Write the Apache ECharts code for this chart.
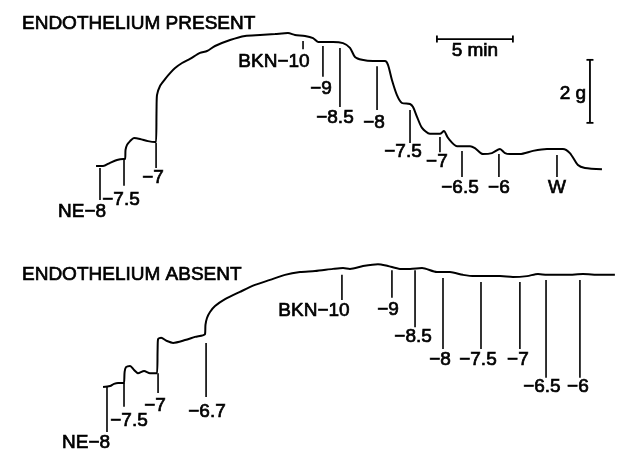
<!DOCTYPE html>
<html>
<head>
<meta charset="utf-8">
<script src="https://cdn.jsdelivr.net/npm/echarts@6/dist/echarts.min.js"></script>
<style>
  html, body { margin: 0; padding: 0; background: #fff; }
  #chart { width: 624px; height: 451px; }
</style>
</head>
<body>
<div id="chart"></div>
<script>
// time in min, tension in g (0 = resting tone before NE)
const presentT = [0, 0.46, 0.92, 1.38, 1.78, 1.91, 1.94, 2.04, 2.24, 2.50, 2.89, 3.42, 3.88, 3.95, 3.98, 4.01, 4.21, 4.54, 4.87, 5.20, 5.66, 6.18, 6.84, 7.30, 7.83, 8.82, 9.80, 10.79, 11.78, 12.63, 13.09, 13.75, 14.28, 14.61, 15.59, 16.25, 16.71, 17.04, 17.50, 18.22, 19.01, 19.21, 19.47, 19.80, 20.13, 20.66, 20.86, 21.12, 21.45, 21.97, 22.63, 22.89, 23.16, 23.75, 24.61, 24.93, 25.46, 26.05, 26.58, 26.91, 27.24, 27.89, 28.75, 29.67, 30.72, 31.18, 31.71, 32.17, 33.29]
const presentG = [0, 0, 0.10, 0.19, 0.22, 0.22, 0.51, 0.67, 0.79, 0.89, 0.86, 0.79, 0.76, 0.76, 1.78, 2.25, 2.54, 2.76, 2.95, 3.11, 3.27, 3.40, 3.59, 3.65, 3.81, 4.00, 4.13, 4.16, 4.19, 4.22, 4.16, 4.13, 4.06, 3.94, 3.94, 3.90, 3.75, 3.46, 3.37, 3.33, 3.33, 3.21, 2.73, 2.25, 2.00, 1.97, 1.87, 1.56, 1.21, 1.02, 1.02, 1.11, 0.89, 0.63, 0.63, 0.57, 0.38, 0.41, 0.54, 0.41, 0.38, 0.38, 0.48, 0.54, 0.54, 0.41, 0.03, -0.06, -0.10]

const absentT = [0.46, 0.92, 1.18, 1.45, 1.78, 1.84, 1.88, 1.97, 2.24, 2.50, 2.76, 3.16, 3.55, 4.01, 4.05, 4.08, 4.28, 4.67, 5.07, 5.86, 6.51, 7.17, 7.20, 7.30, 7.50, 7.83, 8.49, 9.47, 10.46, 11.45, 12.43, 13.42, 14.41, 15.59, 16.25, 16.71, 17.57, 18.55, 19.21, 20.00, 20.66, 21.45, 22.43, 23.29, 24.14, 24.93, 26.58, 27.43, 28.36, 29.08, 29.67, 30.99, 32.04, 33.16, 34.14]
const absentG = [0, 0.03, 0.10, 0.13, 0.13, 0.13, 0.48, 0.63, 0.67, 0.54, 0.44, 0.51, 0.44, 0.44, 1.17, 1.52, 1.56, 1.46, 1.40, 1.49, 1.59, 1.68, 1.97, 2.19, 2.38, 2.57, 2.79, 3.02, 3.24, 3.40, 3.56, 3.65, 3.68, 3.75, 3.78, 3.75, 3.84, 3.90, 3.84, 3.75, 3.75, 3.78, 3.65, 3.65, 3.56, 3.52, 3.52, 3.49, 3.52, 3.59, 3.56, 3.56, 3.59, 3.56, 3.56]

// drug additions: marker time, line top / bottom (g), label and label position
const presentMarkLabel = ['NE−8', '−7.5', '−7', 'BKN−10', '−9', '−8.5', '−8', '−7.5', '−7', '−6.5', '−6', 'W']
const presentMarkT = [0.26, 1.84, 3.95, 13.62, 14.93, 16.05, 18.49, 20.66, 22.63, 24.08, 26.51, 30.33]
const presentMarkHigh = [-0.06, 0.19, 0.73, 3.97, 3.81, 3.75, 3.17, 1.78, 0.92, 0.48, 0.38, 0.35]
const presentMarkLow = [-1.08, -0.63, -0.06, 3.71, 2.83, 1.87, 1.78, 0.73, 0.44, -0.35, -0.35, -0.35]
const presentLabelT = [-0.92, 1.64, 3.75, 11.71, 14.80, 15.72, 18.29, 20.20, 22.43, 23.95, 26.51, 30.33]
const presentLabelG = [-1.46, -1.08, -0.38, 3.30, 2.44, 1.52, 1.37, 0.44, 0.13, -0.70, -0.70, -0.70]

const absentMarkLabel = ['NE−8', '−7.5', '−7', '−6.7', 'BKN−10', '−9', '−8.5', '−8', '−7.5', '−7', '−6.5', '−6']
const absentMarkT = [0.72, 1.84, 4.08, 7.24, 16.18, 19.47, 20.99, 22.83, 25.33, 27.89, 29.61, 31.84]
const absentMarkHigh = [0, 0.13, 0.44, 1.40, 3.56, 3.71, 3.71, 3.46, 3.33, 3.33, 3.40, 3.40]
const absentMarkLow = [-1.43, -0.63, -0.19, -0.32, 2.76, 2.83, 1.90, 1.21, 1.21, 1.21, 0.29, 0.29]
const absentLabelT = [-0.66, 2.17, 3.88, 7.30, 14.34, 19.21, 20.86, 22.63, 25.13, 27.76, 29.34, 31.71]
const absentLabelG = [-1.78, -1.08, -0.60, -0.79, 2.41, 2.44, 1.59, 0.86, 0.86, 0.86, 0.00, 0.00]

// calibration bars
const timeBar = [22.43, 27.43, 4.03]   // t start, t end, g
const timeBarLabel = ['5 min', 24.93, 3.65]
const forceBar = [32.5, 1.37, 3.37]    // t, g bottom, g top
const forceBarLabel = ['2 g', 31.38, 2.29]

const FONT = '19px "Liberation Sans", Arial, sans-serif'

const chart = echarts.init(document.getElementById('chart'))

function zip(a, b) {
  return a.map((v, i) => [v, b[i]])
}

const markRender = (params, api) => {
  const p1 = api.coord([api.value(0), api.value(1)])
  const p2 = api.coord([api.value(0), api.value(2)])
  return {
    type: 'line',
    shape: { x1: p1[0], y1: p1[1], x2: p2[0], y2: p2[1] },
    style: { stroke: '#000', lineWidth: 1.6 }
  }
}

// text drawn with a thin outline so it looks as heavy as the scanned lettering
const textEl = (p, s) => ({
  type: 'text',
  x: p[0],
  y: p[1],
  style: {
    text: s,
    font: FONT,
    fill: '#000',
    stroke: '#000',
    lineWidth: 0.7,
    align: 'center',
    verticalAlign: 'middle'
  }
})

const textRender = labels => (params, api) => {
  const p = api.coord([api.value(0), api.value(1)])
  return textEl(p, labels[params.dataIndex])
}

const traceSeries = (data, idx) => ({
  type: 'line',
  xAxisIndex: idx,
  yAxisIndex: idx,
  data: data,
  showSymbol: false,
  smooth: 0.25,
  lineStyle: { color: '#000', width: 2 },
  silent: true,
  animation: false
})

const markSeries = (t, hi, lo, idx) => ({
  type: 'custom',
  xAxisIndex: idx,
  yAxisIndex: idx,
  data: t.map((v, i) => [v, hi[i], lo[i]]),
  renderItem: markRender,
  silent: true,
  animation: false
})

const labelSeries = (labels, t, g, idx) => ({
  type: 'custom',
  xAxisIndex: idx,
  yAxisIndex: idx,
  data: zip(t, g),
  renderItem: textRender(labels),
  silent: true,
  animation: false
})

const barLine = (x1, y1, x2, y2) => ({
  type: 'line',
  shape: { x1, y1, x2, y2 },
  style: { stroke: '#000', lineWidth: 1.8 }
})

const titleStyle = {
  fontFamily: 'Liberation Sans',
  fontSize: 19,
  fontWeight: 'normal',
  color: '#000',
  textBorderColor: '#000',
  textBorderWidth: 0.7
}

const option = {
  backgroundColor: '#fff',
  animation: false,
  title: [
    { text: 'ENDOTHELIUM PRESENT', left: 17, top: 9, textStyle: titleStyle },
    { text: 'ENDOTHELIUM ABSENT', left: 17, top: 260, textStyle: titleStyle }
  ],
  grid: [
    { left: 0, right: 0, top: 0, height: 225 },
    { left: 0, right: 0, top: 225, height: 226 }
  ],
  xAxis: [0, 1].map(i => ({
    type: 'value', gridIndex: i, min: -6.32, max: 34.74, show: false
  })),
  yAxis: [
    { type: 'value', gridIndex: 0, min: -1.873, max: 5.27, show: false },
    { type: 'value', gridIndex: 1, min: -2.032, max: 5.143, show: false }
  ],
  series: [
    traceSeries(zip(presentT, presentG), 0),
    markSeries(presentMarkT, presentMarkHigh, presentMarkLow, 0),
    labelSeries(presentMarkLabel, presentLabelT, presentLabelG, 0),
    traceSeries(zip(absentT, absentG), 1),
    markSeries(absentMarkT, absentMarkHigh, absentMarkLow, 1),
    labelSeries(absentMarkLabel, absentLabelT, absentLabelG, 1),
    {
      // calibration bars
      type: 'custom',
      xAxisIndex: 0,
      yAxisIndex: 0,
      data: [0],
      silent: true,
      renderItem: (params, api) => {
        const a = api.coord([timeBar[0], timeBar[2]])
        const b = api.coord([timeBar[1], timeBar[2]])
        const c = api.coord([forceBar[0], forceBar[1]])
        const d = api.coord([forceBar[0], forceBar[2]])
        const t1 = api.coord([timeBarLabel[1], timeBarLabel[2]])
        const t2 = api.coord([forceBarLabel[1], forceBarLabel[2]])
        return {
          type: 'group',
          children: [
            barLine(a[0], a[1], b[0], b[1]),
            barLine(a[0], a[1] - 3.5, a[0], a[1] + 3.5),
            barLine(b[0], b[1] - 3.5, b[0], b[1] + 3.5),
            barLine(c[0], c[1], d[0], d[1]),
            barLine(c[0] - 3.5, c[1], c[0] + 3.5, c[1]),
            barLine(d[0] - 3.5, d[1], d[0] + 3.5, d[1]),
            textEl(t1, timeBarLabel[0]),
            textEl(t2, forceBarLabel[0])
          ]
        }
      }
    }
  ]
}

chart.setOption(option)
</script>
</body>
</html>
